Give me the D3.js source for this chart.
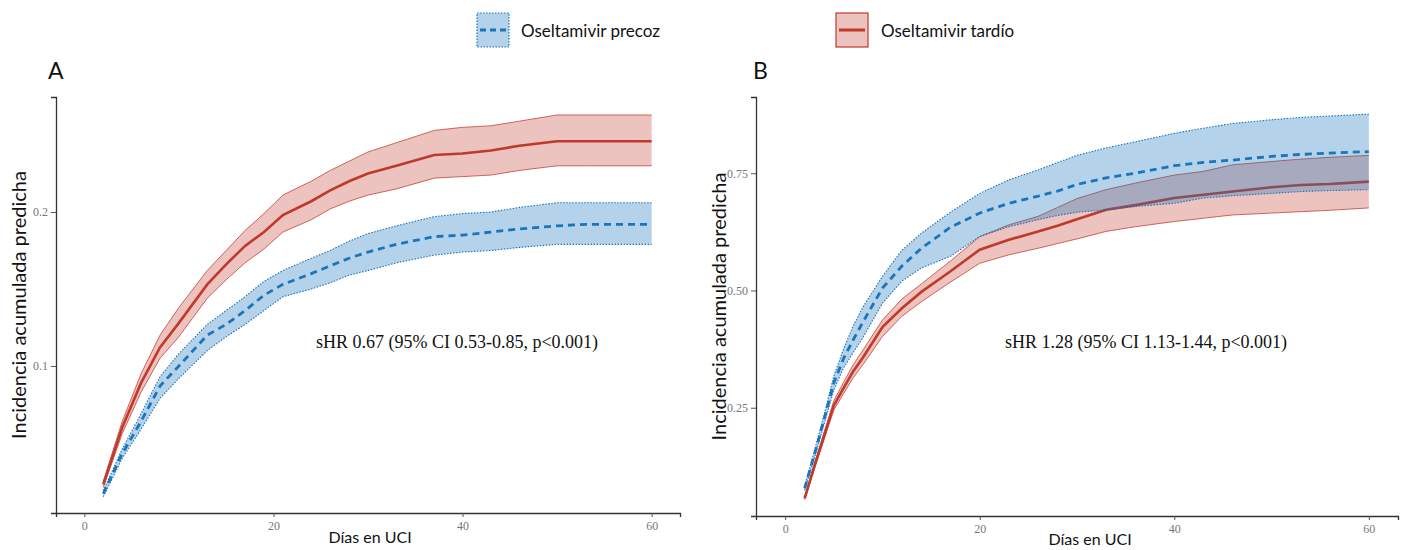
<!DOCTYPE html>
<html><head><meta charset="utf-8">
<script src="https://cdn.jsdelivr.net/npm/d3@7/dist/d3.min.js"></script>
<style>body{margin:0;background:#fff}svg{display:block}</style>
</head><body>
<svg id="chart" width="1410" height="550"></svg>
<script>
// ---- Data ----
const daysA = [2,4,6,8,10,13,15,17,19,21,24,26,28,30,33,37,40,43,46,50,53,56,60];
const tardioA    = [0.023,0.060,0.089,0.112,0.128,0.153,0.166,0.178,0.187,0.198,0.207,0.214,0.220,0.225,0.230,0.237,0.238,0.240,0.243,0.246,0.246,0.246,0.246];
const tardioA_hi = [0.025,0.064,0.095,0.120,0.138,0.162,0.175,0.188,0.199,0.211,0.220,0.227,0.233,0.239,0.245,0.253,0.255,0.256,0.259,0.263,0.263,0.263,0.263];
const tardioA_lo = [0.021,0.056,0.083,0.105,0.119,0.144,0.156,0.167,0.176,0.187,0.195,0.202,0.207,0.211,0.215,0.222,0.223,0.224,0.227,0.230,0.230,0.230,0.230];
const precozA    = [0.017,0.043,0.064,0.087,0.100,0.120,0.127,0.136,0.146,0.153,0.160,0.165,0.170,0.174,0.179,0.184,0.185,0.187,0.189,0.191,0.192,0.192,0.192];
const precozA_hi = [0.019,0.046,0.069,0.093,0.108,0.127,0.136,0.145,0.155,0.162,0.170,0.175,0.181,0.186,0.191,0.197,0.199,0.200,0.203,0.206,0.206,0.206,0.206];
const precozA_lo = [0.015,0.040,0.059,0.079,0.092,0.110,0.119,0.127,0.136,0.145,0.150,0.154,0.159,0.162,0.167,0.172,0.174,0.175,0.177,0.179,0.179,0.179,0.179];

const daysB = [2,3,4,5,6,7,8,10,12,14,17,20,23,26,28,30,33,36,40,43,46,50,53,56,60];
const precozB    = [0.078,0.150,0.225,0.303,0.355,0.395,0.433,0.505,0.552,0.590,0.635,0.665,0.686,0.701,0.712,0.726,0.740,0.750,0.766,0.773,0.778,0.786,0.790,0.793,0.796];
const precozB_hi = [0.083,0.158,0.235,0.318,0.375,0.425,0.465,0.530,0.586,0.622,0.667,0.707,0.736,0.757,0.773,0.788,0.804,0.817,0.835,0.846,0.856,0.864,0.869,0.872,0.876];
const precozB_lo = [0.074,0.142,0.215,0.288,0.335,0.368,0.400,0.473,0.520,0.548,0.573,0.615,0.636,0.651,0.660,0.667,0.672,0.679,0.686,0.697,0.702,0.707,0.711,0.713,0.715];
const tardioB    = [0.057,0.125,0.190,0.255,0.292,0.328,0.357,0.422,0.462,0.497,0.541,0.587,0.608,0.626,0.638,0.652,0.672,0.682,0.697,0.704,0.711,0.720,0.725,0.727,0.732];
const tardioB_hi = [0.060,0.131,0.198,0.265,0.304,0.342,0.373,0.437,0.482,0.514,0.563,0.615,0.640,0.658,0.677,0.696,0.715,0.729,0.746,0.754,0.768,0.775,0.780,0.784,0.788];
const tardioB_lo = [0.054,0.119,0.182,0.245,0.280,0.314,0.342,0.402,0.445,0.476,0.518,0.558,0.576,0.590,0.600,0.610,0.626,0.636,0.647,0.654,0.661,0.665,0.668,0.671,0.676];

const xTicks = [0,20,40,60];
const yTicksA = [0.1,0.2];
const yTicksB = [0.25,0.50,0.75];
const seriesNames = ["Oseltamivir precoz","Oseltamivir tardío"];
const annotA = "sHR 0.67 (95% CI 0.53-0.85, p<0.001)";
const annotB = "sHR 1.28 (95% CI 1.13-1.44, p<0.001)";
const yTitle = "Incidencia acumulada predicha";
const xTitle = "Días en UCI";

// ---- Styles ----
const RED = "#c0392b", BLUE = "#1a75bc";
const RED_FILL = "rgba(192,57,43,0.30)", BLUE_FILL = "rgba(26,117,188,0.33)";
const svg = d3.select("#chart");
const SANS = "Lato, 'Open Sans', sans-serif";
const SERIF = "'Liberation Serif', 'DejaVu Serif', serif";

function panel(cfg){
  const g = svg.append("g");
  const x = d3.scaleLinear().domain([-3,63]).range(cfg.xr);
  const y = d3.scaleLinear().domain(cfg.yd).range(cfg.yr);
  const mk = (days, m, lo, hi) => days.map((d,i)=>({d, m:m[i], lo:lo[i], hi:hi[i]}));
  const area = d3.area().x(p=>x(p.d)).y0(p=>y(p.lo)).y1(p=>y(p.hi));
  const lineM = d3.line().x(p=>x(p.d)).y(p=>y(p.m));
  const lineLo = d3.line().x(p=>x(p.d)).y(p=>y(p.lo));
  const lineHi = d3.line().x(p=>x(p.d)).y(p=>y(p.hi));
  const red = mk(cfg.days, cfg.tm, cfg.tlo, cfg.thi);
  const blue = mk(cfg.days, cfg.pm, cfg.plo, cfg.phi);

  g.append("path").attr("d", area(red)).attr("fill", RED_FILL);
  [lineLo, lineHi].forEach(l => g.append("path").attr("d", l(red)).attr("fill","none")
      .attr("stroke", RED).attr("stroke-opacity",0.75).attr("stroke-width",1));
  g.append("path").attr("d", lineM(red)).attr("fill","none").attr("stroke", RED).attr("stroke-width",2.6);
  g.append("path").attr("d", area(blue)).attr("fill", BLUE_FILL);
  [lineLo, lineHi].forEach(l => g.append("path").attr("d", l(blue)).attr("fill","none")
      .attr("stroke", BLUE).attr("stroke-width",1.1).attr("stroke-dasharray","1.5,1.5"));
  g.append("path").attr("d", lineM(blue)).attr("fill","none").attr("stroke", BLUE)
      .attr("stroke-width",2.8).attr("stroke-dasharray","7,5");

  const ax = g.append("g").attr("transform", `translate(0,${cfg.yr[0]})`)
     .call(d3.axisBottom(x).tickValues(xTicks).tickSize(4).tickPadding(4).tickFormat(d3.format("d")));
  const ay = g.append("g").attr("transform", `translate(${cfg.xr[0]},0)`)
     .call(d3.axisLeft(y).tickValues(cfg.yt).tickSize(5).tickPadding(3).tickFormat(cfg.yf));
  [ax, ay].forEach(a => {
    a.select(".domain").attr("stroke","#333").attr("stroke-width",1.3);
    a.selectAll(".tick line").attr("stroke","#555");
    a.selectAll(".tick text").attr("fill","#777").attr("font-family",SERIF).attr("font-size",12);
  });

  g.append("text").attr("transform", `translate(${cfg.ytx},${(cfg.yr[0]+cfg.yr[1])/2}) rotate(-90)`)
    .attr("text-anchor","middle").attr("dominant-baseline","central")
    .attr("font-family",SANS).attr("font-size",20).attr("fill","#111").text(yTitle);
  g.append("text").attr("x", cfg.xtx).attr("y", cfg.xty).attr("text-anchor","middle")
    .attr("font-family",SANS).attr("font-size",16).attr("fill","#111").text(xTitle);
  g.append("text").attr("x", cfg.lx).attr("y", 79).attr("font-family",SANS).attr("font-size",23)
    .attr("fill","#111").text(cfg.label);
  g.append("text").attr("x", cfg.ax).attr("y", 348).attr("text-anchor","middle")
    .attr("font-family",SERIF).attr("font-size",18).attr("fill","#111").text(cfg.annot);
}

panel({xr:[56,680], yr:[513,97], yd:[0.0045,0.2747], yt:yTicksA, yf:d3.format(".1f"),
  days:daysA, tm:tardioA, tlo:tardioA_lo, thi:tardioA_hi, pm:precozA, plo:precozA_lo, phi:precozA_hi,
  ytx:18, xtx:370, xty:543, lx:48, label:"A", ax:457, annot:annotA});
panel({xr:[756,1398], yr:[516,97], yd:[0.0192,0.9125], yt:yTicksB, yf:d3.format(".2f"),
  days:daysB, tm:tardioB, tlo:tardioB_lo, thi:tardioB_hi, pm:precozB, plo:precozB_lo, phi:precozB_hi,
  ytx:718, xtx:1090, xty:545, lx:753, label:"B", ax:1146, annot:annotB});

// ---- Legend ----
const leg = svg.append("g");
const keys = [
  {x:477, fill:BLUE_FILL, stroke:BLUE, dash:"1.5,1.5", lineDash:"6,4", lw:3, tx:521},
  {x:836, fill:RED_FILL, stroke:RED, dash:null, lineDash:null, lw:3, tx:881}
];
keys.forEach((k,i)=>{
  leg.append("rect").attr("x",k.x).attr("y",13).attr("width",32).attr("height",34)
    .attr("fill",k.fill).attr("stroke",k.stroke).attr("stroke-width",1.2)
    .attr("stroke-dasharray",k.dash);
  leg.append("line").attr("x1",k.x+3).attr("x2",k.x+29).attr("y1",30).attr("y2",30)
    .attr("stroke",k.stroke).attr("stroke-width",k.lw).attr("stroke-dasharray",k.lineDash);
  leg.append("text").attr("x",k.tx).attr("y",30).attr("dominant-baseline","central")
    .attr("font-family",SANS).attr("font-size",17).attr("fill","#111").text(seriesNames[i]);
});
</script>
</body></html>
